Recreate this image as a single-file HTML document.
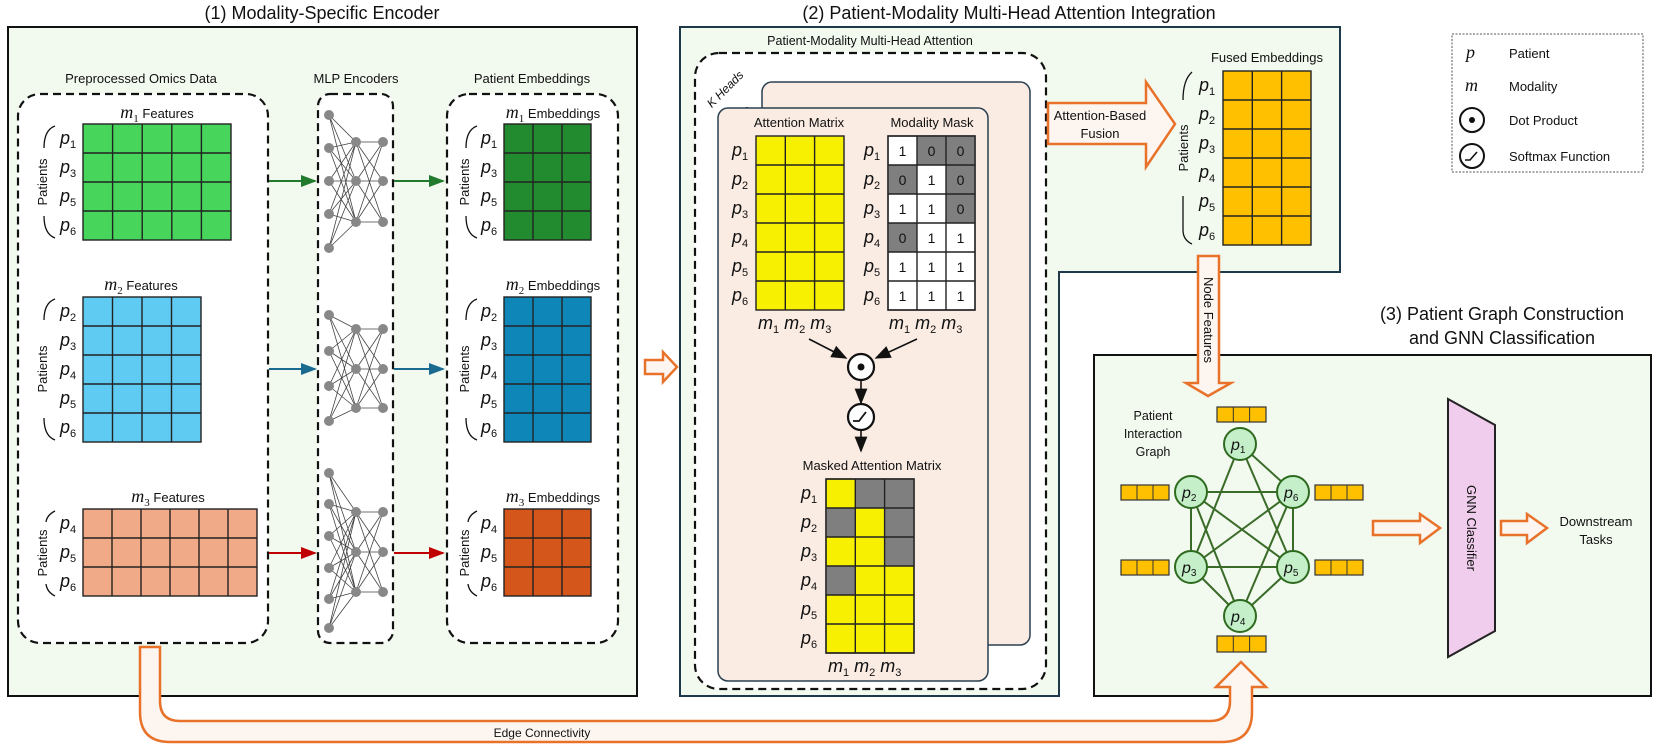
<!DOCTYPE html>
<html><head><meta charset="utf-8"><style>
body{margin:0;background:#fff}
svg{display:block}
text{font-family:"Liberation Sans",sans-serif;fill:#111}
.m{font-family:"Liberation Serif",serif;font-style:italic;font-size:18px}
.s{font-size:11px;font-style:normal}
.lab{font-size:13px;text-anchor:middle}
.ttl{font-size:18px;text-anchor:middle}
.dash{fill:#fff;stroke:#111;stroke-width:2.2;stroke-dasharray:8,5}
.g{stroke:#222;stroke-width:1.4}
.arr{fill:#fdf5f0;stroke:#e8722a;stroke-width:2.5}
.n{fill:#888}
.nl{stroke:#444;stroke-width:0.8}
.e{stroke:#3a6b28;stroke-width:2}
.nd{fill:#c4efc9;stroke:#2e6b1f;stroke-width:2}
.fb{fill:#ffc000;stroke:#333;stroke-width:1.2}
</style></head><body>
<svg width="1661" height="746" viewBox="0 0 1661 746" xmlns="http://www.w3.org/2000/svg">
<defs>
<marker id="ag" markerWidth="8" markerHeight="8" refX="7" refY="4" orient="auto"><path d="M0,1 L8,4 L0,7z" fill="#217a2d"/></marker>
<marker id="ab" markerWidth="8" markerHeight="8" refX="7" refY="4" orient="auto"><path d="M0,1 L8,4 L0,7z" fill="#1a6a90"/></marker>
<marker id="ar" markerWidth="8" markerHeight="8" refX="7" refY="4" orient="auto"><path d="M0,1 L8,4 L0,7z" fill="#c00000"/></marker>
<marker id="ak" markerWidth="10" markerHeight="10" refX="9" refY="5" orient="auto"><path d="M0,1 L10,5 L0,9z" fill="#111"/></marker>
</defs>

<text class="ttl" x="322" y="19">(1) Modality-Specific Encoder</text>
<text class="ttl" x="1009" y="19">(2) Patient-Modality Multi-Head Attention Integration</text>
<text class="ttl" x="1502" y="320">(3) Patient Graph Construction</text>
<text class="ttl" x="1502" y="344">and GNN Classification</text>

<rect x="8" y="27" width="629" height="669" fill="#f2f9ef" stroke="#111" stroke-width="2"/>
<text class="lab" x="141" y="83">Preprocessed Omics Data</text>
<text class="lab" x="356" y="83">MLP Encoders</text>
<text class="lab" x="532" y="83">Patient Embeddings</text>
<rect class="dash" x="18" y="94" width="250" height="549" rx="22"/>
<rect class="dash" x="318" y="94" width="75" height="549" rx="12"/>
<rect class="dash" x="447" y="94" width="171" height="549" rx="22"/>

<text x="157" y="118" text-anchor="middle"><tspan class="m">m</tspan><tspan class="m s" dy="4">1</tspan><tspan font-size="13" dy="-4"> Features</tspan></text>
<rect x="83" y="124" width="148" height="116" fill="#48d55c" class="g"/>
<path class="g" d="M112.6,124V240M142.2,124V240M171.8,124V240M201.4,124V240M83,153H231M83,182H231M83,211H231"/>
<text x="141" y="290" text-anchor="middle"><tspan class="m">m</tspan><tspan class="m s" dy="4">2</tspan><tspan font-size="13" dy="-4"> Features</tspan></text>
<rect x="83" y="297" width="118" height="145" fill="#5fcbf2" class="g"/>
<path class="g" d="M112.5,297V442M142,297V442M171.5,297V442M83,326H201M83,355H201M83,384H201M83,413H201"/>
<text x="168" y="502" text-anchor="middle"><tspan class="m">m</tspan><tspan class="m s" dy="4">3</tspan><tspan font-size="13" dy="-4"> Features</tspan></text>
<rect x="83" y="509" width="174" height="87" fill="#f1aa87" class="g"/>
<path class="g" d="M112,509V596M141,509V596M170,509V596M199,509V596M228,509V596M83,538H257M83,567H257"/>

<g class="m">
<text x="60" y="144">p<tspan class="s" dy="4">1</tspan></text>
<text x="60" y="173">p<tspan class="s" dy="4">3</tspan></text>
<text x="60" y="202">p<tspan class="s" dy="4">5</tspan></text>
<text x="60" y="231">p<tspan class="s" dy="4">6</tspan></text>
<text x="60" y="317">p<tspan class="s" dy="4">2</tspan></text>
<text x="60" y="346">p<tspan class="s" dy="4">3</tspan></text>
<text x="60" y="375">p<tspan class="s" dy="4">4</tspan></text>
<text x="60" y="404">p<tspan class="s" dy="4">5</tspan></text>
<text x="60" y="433">p<tspan class="s" dy="4">6</tspan></text>
<text x="60" y="529">p<tspan class="s" dy="4">4</tspan></text>
<text x="60" y="558">p<tspan class="s" dy="4">5</tspan></text>
<text x="60" y="587">p<tspan class="s" dy="4">6</tspan></text>
</g>
<g font-size="13" text-anchor="middle">
<text transform="translate(47,182) rotate(-90)">Patients</text>
<text transform="translate(47,369) rotate(-90)">Patients</text>
<text transform="translate(47,553) rotate(-90)">Patients</text>
<text transform="translate(469,182) rotate(-90)">Patients</text>
<text transform="translate(469,369) rotate(-90)">Patients</text>
<text transform="translate(469,553) rotate(-90)">Patients</text>
</g>
<g fill="none" stroke="#111" stroke-width="1.3">
<path d="M55,126 Q44,130 44,148 M44,216 Q44,234 55,238"/>
<path d="M55,299 Q44,303 44,320 M44,418 Q44,436 55,440"/>
<path d="M55,511 Q47,515 46,522 M46,584 Q47,592 55,596"/>
<path d="M477,126 Q466,130 466,148 M466,216 Q466,234 477,238"/>
<path d="M477,299 Q466,303 466,320 M466,418 Q466,436 477,440"/>
<path d="M477,511 Q469,515 468,522 M468,584 Q469,592 477,596"/>
</g>

<text x="553" y="118" text-anchor="middle"><tspan class="m">m</tspan><tspan class="m s" dy="4">1</tspan><tspan font-size="13" dy="-4"> Embeddings</tspan></text>
<rect x="504" y="124" width="87" height="116" fill="#228b30" class="g"/>
<path class="g" d="M533,124V240M562,124V240M504,153H591M504,182H591M504,211H591"/>
<text x="553" y="290" text-anchor="middle"><tspan class="m">m</tspan><tspan class="m s" dy="4">2</tspan><tspan font-size="13" dy="-4"> Embeddings</tspan></text>
<rect x="504" y="297" width="87" height="145" fill="#0f86b8" class="g"/>
<path class="g" d="M533,297V442M562,297V442M504,326H591M504,355H591M504,384H591M504,413H591"/>
<text x="553" y="502" text-anchor="middle"><tspan class="m">m</tspan><tspan class="m s" dy="4">3</tspan><tspan font-size="13" dy="-4"> Embeddings</tspan></text>
<rect x="504" y="509" width="87" height="87" fill="#d4561a" class="g"/>
<path class="g" d="M533,509V596M562,509V596M504,538H591M504,567H591"/>
<g class="m">
<text x="481" y="144">p<tspan class="s" dy="4">1</tspan></text>
<text x="481" y="173">p<tspan class="s" dy="4">3</tspan></text>
<text x="481" y="202">p<tspan class="s" dy="4">5</tspan></text>
<text x="481" y="231">p<tspan class="s" dy="4">6</tspan></text>
<text x="481" y="317">p<tspan class="s" dy="4">2</tspan></text>
<text x="481" y="346">p<tspan class="s" dy="4">3</tspan></text>
<text x="481" y="375">p<tspan class="s" dy="4">4</tspan></text>
<text x="481" y="404">p<tspan class="s" dy="4">5</tspan></text>
<text x="481" y="433">p<tspan class="s" dy="4">6</tspan></text>
<text x="481" y="529">p<tspan class="s" dy="4">4</tspan></text>
<text x="481" y="558">p<tspan class="s" dy="4">5</tspan></text>
<text x="481" y="587">p<tspan class="s" dy="4">6</tspan></text>
</g>

<line x1="269" y1="181" x2="315" y2="181" stroke="#217a2d" stroke-width="2" marker-end="url(#ag)"/>
<line x1="394" y1="181" x2="443" y2="181" stroke="#217a2d" stroke-width="2" marker-end="url(#ag)"/>
<line x1="269" y1="369" x2="315" y2="369" stroke="#1a6a90" stroke-width="2" marker-end="url(#ab)"/>
<line x1="394" y1="369" x2="443" y2="369" stroke="#1a6a90" stroke-width="2" marker-end="url(#ab)"/>
<line x1="269" y1="553" x2="315" y2="553" stroke="#c00000" stroke-width="2" marker-end="url(#ar)"/>
<line x1="394" y1="553" x2="443" y2="553" stroke="#c00000" stroke-width="2" marker-end="url(#ar)"/>

<g class="nl">
<path d="M329,115L356,142M329,115L356,181M329,115L356,222M329,148L356,142M329,148L356,181M329,148L356,222M329,181L356,142M329,181L356,181M329,181L356,222M329,214L356,142M329,214L356,181M329,214L356,222M329,248L356,142M329,248L356,181M329,248L356,222M356,142L383,142M356,142L383,181M356,142L383,222M356,181L383,142M356,181L383,181M356,181L383,222M356,222L383,142M356,222L383,181M356,222L383,222"/>
<path d="M329,315L356,329M329,315L356,369M329,315L356,408M329,351L356,329M329,351L356,369M329,351L356,408M329,386L356,329M329,386L356,369M329,386L356,408M329,421L356,329M329,421L356,369M329,421L356,408M356,329L383,329M356,329L383,369M356,329L383,408M356,369L383,329M356,369L383,369M356,369L383,408M356,408L383,329M356,408L383,369M356,408L383,408"/>
<path d="M329,473L356,512M329,473L356,552M329,473L356,592M329,504L356,512M329,504L356,552M329,504L356,592M329,536L356,512M329,536L356,552M329,536L356,592M329,568L356,512M329,568L356,552M329,568L356,592M329,599L356,512M329,599L356,552M329,599L356,592M329,628L356,512M329,628L356,552M329,628L356,592M356,512L383,512M356,512L383,552M356,512L383,592M356,552L383,512M356,552L383,552M356,552L383,592M356,592L383,512M356,592L383,552M356,592L383,592"/>
</g>
<g class="n">
<circle cx="329" cy="115" r="5"/><circle cx="329" cy="148" r="5"/><circle cx="329" cy="181" r="5"/><circle cx="329" cy="214" r="5"/><circle cx="329" cy="248" r="5"/>
<circle cx="356" cy="142" r="5"/><circle cx="356" cy="181" r="5"/><circle cx="356" cy="222" r="5"/>
<circle cx="383" cy="142" r="5"/><circle cx="383" cy="181" r="5"/><circle cx="383" cy="222" r="5"/>
<circle cx="329" cy="315" r="5"/><circle cx="329" cy="351" r="5"/><circle cx="329" cy="386" r="5"/><circle cx="329" cy="421" r="5"/>
<circle cx="356" cy="329" r="5"/><circle cx="356" cy="369" r="5"/><circle cx="356" cy="408" r="5"/>
<circle cx="383" cy="329" r="5"/><circle cx="383" cy="369" r="5"/><circle cx="383" cy="408" r="5"/>
<circle cx="329" cy="473" r="5"/><circle cx="329" cy="504" r="5"/><circle cx="329" cy="536" r="5"/><circle cx="329" cy="568" r="5"/><circle cx="329" cy="599" r="5"/><circle cx="329" cy="628" r="5"/>
<circle cx="356" cy="512" r="5"/><circle cx="356" cy="552" r="5"/><circle cx="356" cy="592" r="5"/>
<circle cx="383" cy="512" r="5"/><circle cx="383" cy="552" r="5"/><circle cx="383" cy="592" r="5"/>
</g>

<path class="arr" d="M645,360H663V352L677,367L663,382V374H645Z"/>

<path d="M680,27H1340V272H1059V696H680Z" fill="#f2f9ef" stroke="#1e3a4a" stroke-width="2"/>
<text x="870" y="45" font-size="12.5" text-anchor="middle">Patient-Modality Multi-Head Attention</text>
<rect class="dash" x="695" y="53" width="351" height="636" rx="24"/>
<text transform="translate(728,92) rotate(-45)" font-size="12" font-style="italic" text-anchor="middle">K Heads</text>
<circle cx="735" cy="119" r="2" fill="#111"/><circle cx="741" cy="114" r="2" fill="#111"/><circle cx="747" cy="109" r="2" fill="#111"/>
<rect x="762" y="82" width="268" height="563" rx="10" fill="#faebe3" stroke="#2a4050" stroke-width="1.5"/>
<rect x="718" y="108" width="270" height="573" rx="10" fill="#faebe3" stroke="#2a4050" stroke-width="1.5"/>
<text class="lab" x="799" y="127">Attention Matrix</text>
<text class="lab" x="932" y="127">Modality Mask</text>
<rect x="756" y="136" width="88" height="174" fill="#f7f000" class="g"/>
<path class="g" d="M785.3,136V310M814.6,136V310M756,165H844M756,194H844M756,223H844M756,252H844M756,281H844"/>
<rect x="888" y="136" width="87" height="174" fill="#fff" class="g"/>
<g fill="#7f7f7f">
<rect x="917" y="136" width="29" height="29"/><rect x="946" y="136" width="29" height="29"/>
<rect x="888" y="165" width="29" height="29"/><rect x="946" y="165" width="29" height="29"/>
<rect x="946" y="194" width="29" height="29"/>
<rect x="888" y="223" width="29" height="29"/>
</g>
<path class="g" fill="none" d="M888,136H975V310H888ZM917,136V310M946,136V310M888,165H975M888,194H975M888,223H975M888,252H975M888,281H975"/>
<g font-size="14" text-anchor="middle">
<text x="902.5" y="156">1</text><text x="931.5" y="156">0</text><text x="960.5" y="156">0</text>
<text x="902.5" y="185">0</text><text x="931.5" y="185">1</text><text x="960.5" y="185">0</text>
<text x="902.5" y="214">1</text><text x="931.5" y="214">1</text><text x="960.5" y="214">0</text>
<text x="902.5" y="243">0</text><text x="931.5" y="243">1</text><text x="960.5" y="243">1</text>
<text x="902.5" y="272">1</text><text x="931.5" y="272">1</text><text x="960.5" y="272">1</text>
<text x="902.5" y="301">1</text><text x="931.5" y="301">1</text><text x="960.5" y="301">1</text>
</g>
<g class="m">
<text x="732" y="156">p<tspan class="s" dy="4">1</tspan></text>
<text x="732" y="185">p<tspan class="s" dy="4">2</tspan></text>
<text x="732" y="214">p<tspan class="s" dy="4">3</tspan></text>
<text x="732" y="243">p<tspan class="s" dy="4">4</tspan></text>
<text x="732" y="272">p<tspan class="s" dy="4">5</tspan></text>
<text x="732" y="301">p<tspan class="s" dy="4">6</tspan></text>
<text x="864" y="156">p<tspan class="s" dy="4">1</tspan></text>
<text x="864" y="185">p<tspan class="s" dy="4">2</tspan></text>
<text x="864" y="214">p<tspan class="s" dy="4">3</tspan></text>
<text x="864" y="243">p<tspan class="s" dy="4">4</tspan></text>
<text x="864" y="272">p<tspan class="s" dy="4">5</tspan></text>
<text x="864" y="301">p<tspan class="s" dy="4">6</tspan></text>
<text x="758" y="329">m<tspan class="s" dy="4">1</tspan><tspan dy="-4"> m</tspan><tspan class="s" dy="4">2</tspan><tspan dy="-4"> m</tspan><tspan class="s" dy="4">3</tspan></text>
<text x="889" y="329">m<tspan class="s" dy="4">1</tspan><tspan dy="-4"> m</tspan><tspan class="s" dy="4">2</tspan><tspan dy="-4"> m</tspan><tspan class="s" dy="4">3</tspan></text>
</g>
<line x1="809" y1="339" x2="846" y2="358" stroke="#111" stroke-width="1.6" marker-end="url(#ak)"/>
<line x1="917" y1="339" x2="876" y2="358" stroke="#111" stroke-width="1.6" marker-end="url(#ak)"/>
<circle cx="861" cy="367" r="13" fill="#fff" stroke="#111" stroke-width="2.2"/>
<circle cx="861" cy="367" r="3.5" fill="#111"/>
<line x1="861" y1="380" x2="861" y2="403" stroke="#111" stroke-width="1.6" marker-end="url(#ak)"/>
<circle cx="861" cy="417" r="13" fill="#fff" stroke="#111" stroke-width="2.2"/>
<path d="M853,421H859L866,412" fill="none" stroke="#111" stroke-width="1.8"/>
<line x1="861" y1="430" x2="861" y2="451" stroke="#111" stroke-width="1.6" marker-end="url(#ak)"/>
<text class="lab" x="872" y="470">Masked Attention Matrix</text>
<rect x="826" y="479" width="88" height="174" fill="#f7f000" class="g"/>
<g fill="#7f7f7f">
<rect x="855.3" y="479" width="29.3" height="29"/><rect x="884.6" y="479" width="29.4" height="29"/>
<rect x="826" y="508" width="29.3" height="29"/><rect x="884.6" y="508" width="29.4" height="29"/>
<rect x="884.6" y="537" width="29.4" height="29"/>
<rect x="826" y="566" width="29.3" height="29"/>
</g>
<path class="g" fill="none" d="M826,479H914V653H826ZM855.3,479V653M884.6,479V653M826,508H914M826,537H914M826,566H914M826,595H914M826,624H914"/>
<g class="m">
<text x="801" y="499">p<tspan class="s" dy="4">1</tspan></text>
<text x="801" y="528">p<tspan class="s" dy="4">2</tspan></text>
<text x="801" y="557">p<tspan class="s" dy="4">3</tspan></text>
<text x="801" y="586">p<tspan class="s" dy="4">4</tspan></text>
<text x="801" y="615">p<tspan class="s" dy="4">5</tspan></text>
<text x="801" y="644">p<tspan class="s" dy="4">6</tspan></text>
<text x="828" y="672">m<tspan class="s" dy="4">1</tspan><tspan dy="-4"> m</tspan><tspan class="s" dy="4">2</tspan><tspan dy="-4"> m</tspan><tspan class="s" dy="4">3</tspan></text>
</g>

<path class="arr" d="M1048,103H1146V82L1175,124L1146,167V144H1048Z"/>
<text x="1100" y="120" font-size="13" text-anchor="middle">Attention-Based</text>
<text x="1100" y="138" font-size="13" text-anchor="middle">Fusion</text>

<text class="lab" x="1267" y="62">Fused Embeddings</text>
<rect x="1223" y="71" width="88" height="174" fill="#ffc000" class="g"/>
<path class="g" d="M1252.3,71V245M1281.6,71V245M1223,100H1311M1223,129H1311M1223,158H1311M1223,187H1311M1223,216H1311"/>
<g class="m">
<text x="1199" y="91">p<tspan class="s" dy="4">1</tspan></text>
<text x="1199" y="120">p<tspan class="s" dy="4">2</tspan></text>
<text x="1199" y="149">p<tspan class="s" dy="4">3</tspan></text>
<text x="1199" y="178">p<tspan class="s" dy="4">4</tspan></text>
<text x="1199" y="207">p<tspan class="s" dy="4">5</tspan></text>
<text x="1199" y="236">p<tspan class="s" dy="4">6</tspan></text>
</g>
<path d="M1192,72 Q1183,80 1183,100 M1183,196 V230 Q1183,240 1192,244" fill="none" stroke="#111" stroke-width="1.3"/>
<text transform="translate(1188,148) rotate(-90)" font-size="13" text-anchor="middle">Patients</text>

<rect x="1452" y="34" width="191" height="138" fill="#fff" stroke="#555" stroke-width="1" stroke-dasharray="2,1.5"/>
<text class="m" x="1466" y="58">p</text><text x="1509" y="58" font-size="13">Patient</text>
<text class="m" x="1465" y="91">m</text><text x="1509" y="91" font-size="13">Modality</text>
<circle cx="1472" cy="120" r="12" fill="#fff" stroke="#111" stroke-width="2"/><circle cx="1472" cy="120" r="3" fill="#111"/>
<text x="1509" y="125" font-size="13">Dot Product</text>
<circle cx="1472" cy="156" r="12" fill="#fff" stroke="#111" stroke-width="2"/>
<path d="M1465,160H1470L1477,152" fill="none" stroke="#111" stroke-width="1.6"/>
<text x="1509" y="161" font-size="13">Softmax Function</text>

<rect x="1094" y="355" width="557" height="341" fill="#f2f9ef" stroke="#111" stroke-width="2"/>
<path class="arr" d="M1198,256H1219V383H1231L1208,396L1186,383H1198Z"/>
<text transform="translate(1204,320) rotate(90)" font-size="13" text-anchor="middle">Node Features</text>

<text x="1153" y="420" font-size="12.5" text-anchor="middle">Patient</text>
<text x="1153" y="438" font-size="12.5" text-anchor="middle">Interaction</text>
<text x="1153" y="456" font-size="12.5" text-anchor="middle">Graph</text>

<g class="e">
<line x1="1240" y1="444" x2="1293" y2="492"/>
<line x1="1240" y1="444" x2="1191" y2="567"/>
<line x1="1240" y1="444" x2="1293" y2="567"/>
<line x1="1191" y1="492" x2="1293" y2="492"/>
<line x1="1191" y1="492" x2="1191" y2="567"/>
<line x1="1191" y1="492" x2="1293" y2="567"/>
<line x1="1191" y1="492" x2="1240" y2="616"/>
<line x1="1293" y1="492" x2="1191" y2="567"/>
<line x1="1293" y1="492" x2="1293" y2="567"/>
<line x1="1293" y1="492" x2="1240" y2="616"/>
<line x1="1191" y1="567" x2="1293" y2="567"/>
<line x1="1191" y1="567" x2="1240" y2="616"/>
<line x1="1293" y1="567" x2="1240" y2="616"/>
</g>
<g>
<circle class="nd" cx="1240" cy="444" r="16"/><circle class="nd" cx="1191" cy="492" r="16"/><circle class="nd" cx="1293" cy="492" r="16"/>
<circle class="nd" cx="1191" cy="567" r="16"/><circle class="nd" cx="1293" cy="567" r="16"/><circle class="nd" cx="1240" cy="616" r="16"/>
</g>
<g class="m">
<text x="1231" y="450" font-size="16">p<tspan font-size="10" font-style="normal" dy="3">1</tspan></text>
<text x="1182" y="498" font-size="16">p<tspan font-size="10" font-style="normal" dy="3">2</tspan></text>
<text x="1284" y="498" font-size="16">p<tspan font-size="10" font-style="normal" dy="3">6</tspan></text>
<text x="1182" y="573" font-size="16">p<tspan font-size="10" font-style="normal" dy="3">3</tspan></text>
<text x="1284" y="573" font-size="16">p<tspan font-size="10" font-style="normal" dy="3">5</tspan></text>
<text x="1231" y="622" font-size="16">p<tspan font-size="10" font-style="normal" dy="3">4</tspan></text>
</g>
<g>
<rect class="fb" x="1217" y="407" width="49" height="15"/><path d="M1233.3,407V422M1249.6,407V422" stroke="#333"/>
<rect class="fb" x="1121" y="485" width="48" height="15"/><path d="M1137,485V500M1153,485V500" stroke="#333"/>
<rect class="fb" x="1315" y="485" width="48" height="15"/><path d="M1331,485V500M1347,485V500" stroke="#333"/>
<rect class="fb" x="1121" y="560" width="48" height="15"/><path d="M1137,560V575M1153,560V575" stroke="#333"/>
<rect class="fb" x="1315" y="560" width="48" height="15"/><path d="M1331,560V575M1347,560V575" stroke="#333"/>
<rect class="fb" x="1217" y="636" width="49" height="16"/><path d="M1233.3,636V652M1249.6,636V652" stroke="#333"/>
</g>

<path class="arr" d="M1373,521H1420V514L1440,528L1420,543V535H1373Z"/>
<path d="M1448,399L1495,425V631L1448,657Z" fill="#f0cdec" stroke="#222" stroke-width="2"/>
<text transform="translate(1467,528) rotate(90)" font-size="13" text-anchor="middle">GNN Classifier</text>
<path class="arr" d="M1501,521H1527V514L1547,528L1527,543V535H1501Z"/>
<text x="1596" y="526" font-size="13" text-anchor="middle">Downstream</text>
<text x="1596" y="544" font-size="13" text-anchor="middle">Tasks</text>

<path class="arr" d="M140,647H160V701Q160,721 180,721H1210Q1230,721 1230,701V687H1216L1241,662L1266,687H1252V712Q1252,742 1222,742H170Q140,742 140,712Z"/>
<text x="542" y="737" font-size="12" text-anchor="middle">Edge Connectivity</text>
</svg>
</body></html>
